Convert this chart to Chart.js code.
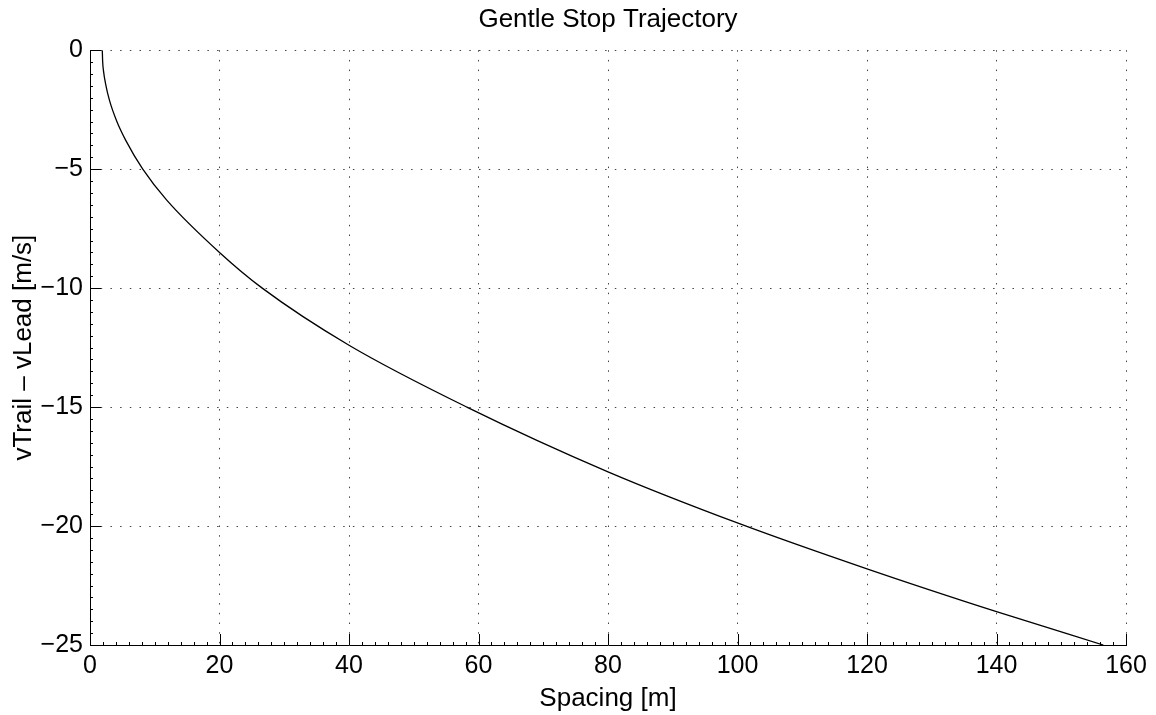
<!DOCTYPE html>
<html>
<head>
<meta charset="utf-8">
<script src="https://cdn.jsdelivr.net/npm/chart.js@4/dist/chart.umd.min.js"></script>
<style>
  html, body { margin:0; padding:0; background:#fff; }
  #chart { display:block; }
</style>
</head>
<body>
<canvas id="chart" width="1156" height="715"></canvas>
<script>
// (spacing in m, relative speed in m/s)
const spacing = [1.9, 1.95, 2.1, 2.4, 3.0, 4.15, 5.5, 8.15, 11.85, 20.0, 26.6, 40.0, 58.2, 80.0, 100.3, 120.0, 140.0, 156.5];
const relVel  = [0, -0.45, -0.9, -1.4, -2.1, -3.0, -3.78, -5.0, -6.3, -8.5, -10.0, -12.4, -15.0, -17.72, -19.9, -21.8, -23.6, -25.0];

const xRange = [0, 160], xStep = 20, xMinor = 2;
const yRange = [-25, 0], yStep = 5, yMinor = 0.5;

const FONT = "'Liberation Sans', Arial, Helvetica, sans-serif";

function fmt(v){ return v < 0 ? "\u2212" + Math.abs(v) : String(v); }

// MATLAB style ticks: pointing into the axes, left and bottom only
const inwardTicks = {
  id: "inwardTicks",
  afterDraw(chart){
    const { ctx, chartArea: a, scales: { x, y } } = chart;
    const isMajor = (v, step) => Math.abs(v / step - Math.round(v / step)) < 1e-6;
    ctx.save();
    ctx.strokeStyle = "#000";
    ctx.lineWidth = 1;
    ctx.beginPath();
    for (let i = 0; ; i++){
      const v = x.min + i * xMinor;
      if (v > x.max + 1e-9) break;
      const px = Math.round(x.getPixelForValue(v)) + 0.5;
      const len = isMajor(v, xStep) ? 11 : 3;
      ctx.moveTo(px, a.bottom); ctx.lineTo(px, a.bottom - len);
    }
    for (let i = 0; ; i++){
      const v = y.min + i * yMinor;
      if (v > y.max + 1e-9) break;
      const py = Math.round(y.getPixelForValue(v)) + 0.5;
      const len = isMajor(v, yStep) ? 11 : 3;
      ctx.moveTo(a.left, py); ctx.lineTo(a.left + len, py);
    }
    ctx.stroke();
    ctx.restore();
  }
};

const gridStyle = { color: "#444", lineWidth: 1, drawTicks: false };
const borderStyle = { display: true, color: "#000", width: 1, dash: [1.5, 8.2] };

new Chart(document.getElementById("chart"), {
  type: "scatter",
  data: {
    datasets: [{
      data: spacing.map((s, i) => ({ x: s, y: relVel[i] })),
      showLine: true,
      borderColor: "#000",
      borderWidth: 1.3,
      pointRadius: 0,
      cubicInterpolationMode: "monotone",
      fill: false
    }]
  },
  options: {
    responsive: false,
    animation: false,
    layout: { padding: { left: 0, right: 30, top: 0, bottom: 0 } },
    plugins: {
      legend: { display: false },
      tooltip: { enabled: false },
      title: {
        display: true,
        fullSize: false, // centre over the axes, not the canvas
        text: "Gentle Stop Trajectory",
        color: "#000",
        font: { family: FONT, size: 26, weight: "normal" },
        padding: { top: 4, bottom: 15 }
      }
    },
    scales: {
      x: {
        type: "linear",
        min: xRange[0], max: xRange[1],
        ticks: { stepSize: xStep, color: "#000", padding: 6, maxRotation: 0,
                 font: { family: FONT, size: 25 }, callback: fmt },
        grid: gridStyle,
        border: borderStyle,
        title: { display: true, text: "Spacing [m]", color: "#000",
                 font: { family: FONT, size: 26 }, padding: { top: 0, bottom: 1 } },
        afterFit(s){ s.height = 70; }
      },
      y: {
        type: "linear",
        min: yRange[0], max: yRange[1],
        ticks: { stepSize: yStep, color: "#000", padding: 7,
                 font: { family: FONT, size: 25 }, callback: fmt },
        grid: gridStyle,
        border: borderStyle,
        title: { display: true, text: "vTrail \u2013 vLead [m/s]", color: "#000",
                 font: { family: FONT, size: 26 }, padding: { top: 8, bottom: 0 } },
        afterFit(s){ s.width = 90; }
      }
    }
  },
  plugins: [inwardTicks]
});
</script>
</body>
</html>
